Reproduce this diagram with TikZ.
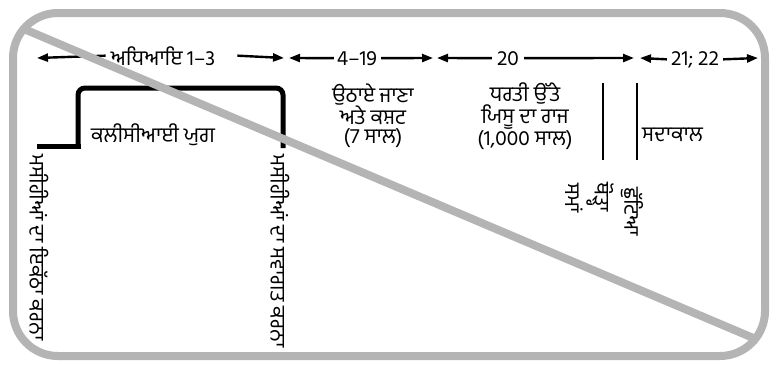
\documentclass[tikz,border=0pt]{standalone}
\usepackage{fontspec}
\newfontfamily\pa[Script=Gurmukhi]{Hind Jalandhar}
\usetikzlibrary{arrows.meta}
\definecolor{bord}{RGB}{180,180,180}
\begin{document}
\begin{tikzpicture}[x=1pt,y=-1pt,
  txt/.style={font=\pa\fontsize{21}{19}\selectfont, inner sep=0pt},
  arr/.style={line width=2.4pt, -{Triangle[length=11pt,width=8pt]}},
  bar/.style={line width=2.4pt},
  stepline/.style={line width=5pt},
  grayline/.style={draw=bord, line width=8pt}]
\useasboundingbox (0,0) rectangle (778,364);
\fill[white] (0,0) rectangle (778,364);
\draw[grayline, rounded corners=45pt] (13,13) rectangle (765,356);

% chapter row
\node[txt, anchor=base] (c13) at (163,65) {ਅਧਿਆਇ 1–3};
\coordinate (c13l) at (37,58); \coordinate (c13r) at (284,58);
\draw[arr] ([xshift=-5pt]c13.west) -- (c13l);
\draw[arr] ([xshift=22pt]c13.east) -- (c13r);

\node[txt, anchor=base] (c419) at (357,65) {4–19};
\coordinate (c419l) at (289,58); \coordinate (c419r) at (433,58);
\draw[arr] ([xshift=-3pt]c419.west) -- (c419l);
\draw[arr] ([xshift=4pt]c419.east) -- (c419r);

\node[txt, anchor=base] (c20) at (508,65) {20};
\coordinate (c20l) at (437,58); \coordinate (c20r) at (634,58);
\draw[arr] ([xshift=-5pt]c20.west) -- (c20l);
\draw[arr] ([xshift=5pt]c20.east) -- (c20r);

\node[txt, anchor=base] (c2122) at (695,65) {21; 22};
\coordinate (c2122l) at (640,58); \coordinate (c2122r) at (758,58);
\draw[arr] ([xshift=-4pt]c2122.west) -- (c2122l);
\draw[arr] ([xshift=4pt]c2122.east) -- (c2122r);

% church age step
\draw[stepline] (37,146) -- (80.5,146);
\draw[stepline, rounded corners=7pt] (78,148.5) -- (78,88) -- (283,88) -- (283,148);
\node[txt, anchor=base] (church) at (153,142) {ਕਲੀਸੀਆਈ ਯੁਗ};

% rapture and tribulation
\node[txt, align=center] (rapt) at (373,116) {ਉਠਾਏ ਜਾਣਾ\\ਅਤੇ ਕਸ਼ਟ\\(7 ਸਾਲ)};

% millennium
\node[txt, align=center] (mill) at (525,116) {ਧਰਤੀ ਉੱਤੇ\\ਯਿਸੂ ਦਾ ਰਾਜ\\(1,000 ਸਾਲ)};

% separators
\coordinate (v1t) at (603,83); \coordinate (v1b) at (603,160);
\coordinate (v2t) at (637,83); \coordinate (v2b) at (637,160);
\draw[bar] (v1t) -- (v1b);
\draw[bar] (v2t) -- (v2b);
\node[txt, anchor=base west] (eter) at (642,141) {ਸਦਾਕਾਲ};

% small rotated labels
\node[txt, rotate=-90, anchor=west] (s1) at (574,183) {ਸਮਾਂ};
\node[txt, rotate=-90, anchor=west] (s2) at (600,182) {ਥੋੜ੍ਹਾ};
\node[txt, rotate=-90, anchor=west] (s3) at (632,187) {ਛੁੱਟਿਆ};

% vertical labels
\node[txt, rotate=-90, anchor=west] (vl) at (39,154) {ਮਸੀਹੀਆਂ ਦਾ ਇਕੱਠਾ ਕਰਨਾ};
\node[txt, rotate=-90, anchor=west] (vr) at (280,154) {ਮਸੀਹੀਆਂ ਦਾ ਸਵਾਗਤ ਕਰਨਾ};

% crossing-out diagonal
\draw[grayline] (24,29) -- (758,340);
\end{tikzpicture}
\end{document}
